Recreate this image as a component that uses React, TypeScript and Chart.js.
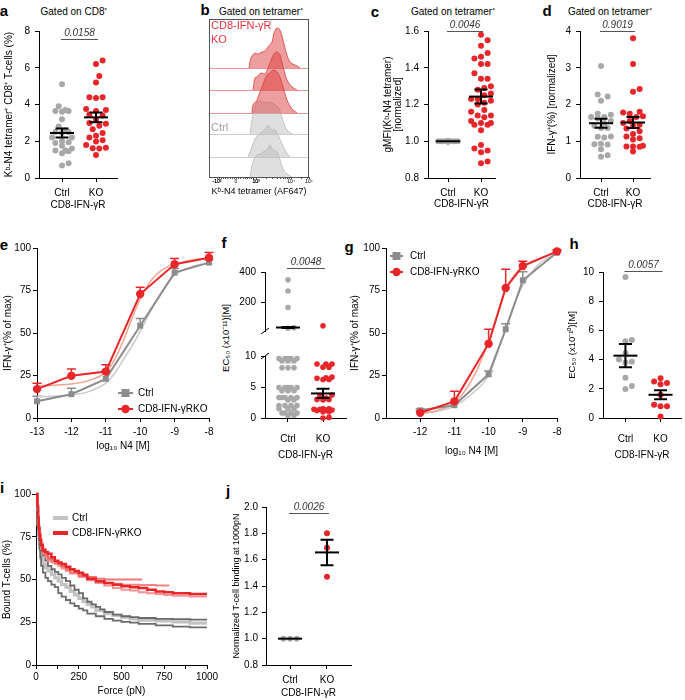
import React, { useEffect, useRef } from 'react';
import { Chart, registerables } from 'chart.js';

Chart.register(...registerables);

const FONT = '"Liberation Sans", Arial, Helvetica, sans-serif';
Chart.defaults.font.family = FONT;
Chart.defaults.font.size = 10;
Chart.defaults.color = '#000';

// ================= DATA =================
const groupLabels = ['Ctrl', 'KO'];
const groupTitle = 'CD8-IFN-γR';

// a
const aCtrl = [5.1, 3.9, 3.65, 3.65, 3.7, 3.6, 3.2, 2.8, 2.6, 2.5, 2.5, 2.45, 2.2, 2.2, 2.0, 1.95, 1.9, 1.75, 1.6, 1.5, 1.5, 1.45, 1.35, 0.8, 0.68];
const aKO = [6.4, 6.2, 5.55, 5.2, 4.4, 4.35, 4.4, 3.75, 3.65, 3.7, 3.45, 3.4, 3.15, 3.0, 2.85, 2.95, 2.65, 2.45, 2.3, 2.2, 2.05, 1.98, 1.8, 1.65, 1.6, 1.62, 1.25];
const aMean = [2.45, 3.3];
const aSem = [0.25, 0.26];
const aP = '0.0158';

// b (histograms: [intensity position, height])
const bKO1 = [[40, 0], [42, 10], [46, 15], [49, 14], [53, 16], [56, 17], [59, 21], [63, 26], [65, 35], [68, 40], [71, 38], [74, 28], [77, 16], [81, 6], [88, 2], [91, 0]];
const bKO2 = [[44, 0], [46, 12], [48, 13], [52, 17], [56, 16], [59, 22], [62, 30], [65, 36], [68, 38], [71, 35], [74, 23], [78, 10], [83, 3], [88, 0]];
const bKO3 = [[43, 0], [44, 8], [48, 13], [51, 21], [54, 29], [58, 38], [61, 40], [64, 43], [68, 41], [71, 36], [74, 26], [78, 13], [83, 4], [88, 0]];
const bCtrl1 = [[41, 0], [44, 19], [48, 32], [51, 33], [54, 32], [58, 31], [61, 32], [65, 30], [68, 28], [71, 23], [74, 13], [78, 4], [83, 0]];
const bCtrl2 = [[39, 0], [43, 10], [46, 18], [49, 22], [53, 25], [56, 27], [59, 32], [63, 27], [66, 27], [69, 22], [73, 13], [77, 5], [81, 0]];
const bCtrl3 = [[41, 0], [44, 15], [48, 22], [51, 23], [54, 25], [58, 27], [61, 32], [64, 27], [68, 25], [71, 17], [74, 8], [78, 3], [83, 0]];
const bTickLabels = ['-10³', '0', '10³', '10⁴', '10⁵'];
const bTickPos = [8, 27, 47, 82, 100];

// c
const cCtrl = [1, 1, 1, 1, 1, 1, 1, 1, 1, 1, 1, 1, 1, 1, 1, 1, 1, 1, 1, 1, 1, 1, 1, 1, 1, 1, 1, 1, 1, 1, 1, 1, 1, 1, 1, 1, 1, 1];
const cKO = [1.58, 1.55, 1.52, 1.48, 1.46, 1.45, 1.42, 1.42, 1.37, 1.34, 1.34, 1.30, 1.29, 1.28, 1.26, 1.25, 1.23, 1.23, 1.22, 1.21, 1.20, 1.17, 1.16, 1.14, 1.14, 1.13, 1.11, 1.10, 1.10, 1.09, 1.09, 1.06, 0.98, 0.96, 0.95, 0.94, 0.89, 0.88];
const cMean = [1.0, 1.243];
const cSem = [0, 0.038];
const cP = '0.0046';

// d
const dCtrl = [3.05, 2.27, 2.22, 2.1, 1.75, 1.72, 1.66, 1.66, 1.62, 1.55, 1.5, 1.42, 1.36, 1.36, 1.13, 1.12, 1.1, 0.93, 0.92, 0.91, 0.78, 0.62, 0.58];
const dKO = [3.8, 3.1, 2.42, 2.35, 1.8, 1.78, 1.75, 1.68, 1.66, 1.55, 1.5, 1.45, 1.42, 1.35, 1.27, 1.2, 1.13, 1.08, 1.05, 0.88, 0.86, 0.86, 0.85, 0.72];
const dMean = [1.49, 1.51];
const dSem = [0.12, 0.15];
const dP = '0.9019';

// e
const eDose = [-13, -12, -11, -10, -9, -8];
const eCtrl = [9.8, 14, 23, 54.3, 85.5, 91.4];
const eCtrlSem = [3, 3.5, 5, 4.3, 2.5, 1.5];
const eKO = [17, 24.8, 27.3, 72.9, 90.4, 94.3];
const eKOSem = [3.5, 4, 4, 4, 3.4, 3];
const eFitX = [-13, -12.5, -12, -11.5, -11, -10.75, -10.5, -10.25, -10, -9.75, -9.5, -9.25, -9, -8.5, -8];
const eFitCtrl = [12.5, 12.8, 13.5, 15.5, 20.5, 26, 34, 42, 51, 61, 70, 78, 84, 89, 91];
const eFitKO = [19, 19.3, 20, 22, 27, 34, 45, 58, 70, 79, 85, 88.5, 90.5, 93, 94];

// f
const fCtrl = [348, 274, 165, 32, 28, 9.6, 9.6, 9.6, 9.6, 9.6, 9.2, 9.2, 9.2, 8.1, 8.1, 8.1, 4.9, 4.9, 4.9, 4.9, 4.9, 4.4, 4.4, 4.4, 3.3, 3.3, 3.3, 3.3, 3.3, 2.9, 2.9, 2.0, 2.0, 2.0, 2.0, 1.5, 1.5, 1.5, 0.8, 0.8, 0.8, 0.8, 0.4, 0.4];
const fKO = [44, 8.7, 8.7, 8.7, 8.2, 8.2, 6.6, 6.5, 6.4, 6.2, 6.2, 3.7, 3.6, 3.2, 3.0, 3.0, 2.9, 1.5, 1.5, 1.4, 1.4, 1.3, 1.3, 1.2, 1.0, 1.0, 0.1, 0];
const fMean = [33, 3.96];
const fSem = [3, 0.75];
const fP = '0.0048';

// g
const gDose = [-12, -11, -10, -9.5, -9, -8];
const gCtrl = [4.5, 7.5, 25.7, 52.2, 81, 97.3];
const gCtrlSem = [1, 1.5, 2, 3.3, 5, 1];
const gKO = [3.1, 9.8, 43.7, 76.5, 89.4, 98];
const gKOSem = [1, 6, 8.5, 11, 2.8, 1];
const gFitX = [-12, -11.5, -11, -10.5, -10, -9.75, -9.5, -9.25, -9, -8.5, -8];
const gFitCtrl = [2.5, 4, 7, 14, 25, 38, 52, 67, 78, 91, 97];
const gFitKO = [2.5, 4.5, 9, 22, 45, 61, 76, 84, 89, 94, 97.5];

// h
const hCtrl = [9.65, 5.35, 5.25, 4.45, 4.0, 3.85, 3.8, 2.75, 2.2, 1.98];
const hKO = [2.73, 2.5, 2.39, 2.32, 1.6, 0.91, 0.8, 0.8, 0.1];
const hMean = [4.27, 1.59];
const hSem = [0.8, 0.31];
const hP = '0.0057';

// i  ([force pN, % bound])
const iCtrl1 = [[0, 100], [8, 100], [12, 92], [16, 84], [20, 78], [25, 74], [30, 71], [40, 67], [55, 64], [70, 61], [90, 58], [110, 56], [130, 54.5], [150, 53], [175, 51], [200, 49], [225, 46.5], [250, 44], [275, 42], [300, 39], [325, 37], [350, 35.5], [375, 34], [400, 32.5], [450, 31], [500, 29.5], [550, 28.5], [600, 28], [700, 27.5], [800, 27], [900, 26.8], [1000, 26.5]];
const iCtrl2 = [[0, 100], [8, 100], [12, 90], [16, 80], [20, 73], [25, 68], [30, 63], [40, 58], [55, 54], [70, 51], [90, 49], [110, 47], [130, 45.5], [150, 42], [175, 40], [200, 38], [225, 36], [250, 34.5], [275, 33], [300, 32], [350, 30], [400, 28.5], [450, 27], [500, 26], [550, 25.2], [600, 24.8], [700, 24], [800, 23.2], [900, 22.5], [1000, 22]];
const iCtrl3 = [[0, 100], [8, 100], [12, 91], [16, 82], [20, 76], [25, 71], [30, 67], [40, 62], [55, 59], [70, 57], [90, 55], [110, 53], [130, 51], [150, 49], [175, 47], [200, 45.5], [225, 43], [250, 41], [275, 39], [300, 37], [325, 35.5], [350, 34], [400, 32], [450, 30], [500, 29], [550, 28], [600, 27], [700, 26.3], [800, 25.8], [900, 25.2], [1000, 24.5]];
const iKO1 = [[0, 100], [8, 100], [12, 93], [16, 86], [20, 80], [25, 76], [30, 73], [40, 70], [55, 67], [70, 66], [90, 65], [110, 63], [130, 61], [150, 60], [175, 59], [200, 57.5], [225, 56], [250, 55], [275, 54], [300, 52.5], [350, 50.5], [400, 49], [450, 48], [500, 47], [550, 46], [600, 45.5], [650, 45], [700, 44], [750, 43], [800, 42.5], [900, 42], [1000, 41.5]];
const iKO2 = [[0, 100], [8, 100], [12, 94], [16, 87], [20, 81], [25, 77], [30, 74], [40, 71], [55, 68], [70, 66], [90, 63], [110, 62], [130, 60.5], [150, 59], [175, 58], [200, 56.5], [225, 55.5], [250, 54.5], [300, 53], [350, 51.5], [400, 50.5], [500, 50], [620, 50]];
const iKO3 = [[0, 100], [8, 100], [12, 92], [16, 84], [20, 79], [25, 75], [30, 72], [40, 68], [55, 65], [70, 63], [90, 61], [110, 60], [130, 59], [150, 58], [175, 56.5], [200, 55], [250, 53.5], [300, 51.5], [350, 49.5], [400, 48], [450, 46.5], [500, 45], [550, 44], [600, 43.5], [650, 42.5], [700, 42], [750, 41.5], [800, 41], [900, 40.5], [1000, 40]];
const iKO4 = [[0, 100], [8, 100], [12, 93], [16, 85], [20, 80], [25, 76], [30, 73], [40, 69], [55, 66], [70, 64], [90, 62], [110, 61], [130, 60], [150, 59], [175, 57.5], [200, 56], [250, 54], [300, 52], [350, 50], [400, 49], [450, 48], [500, 47.5], [600, 47], [700, 46.8], [780, 46.5]];

// j
const jCtrl = [1, 1, 1];
const jKO = [1.80, 1.69, 1.47];
const jMean = [1.0, 1.655];
const jSem = [0, 0.097];
const jP = '0.0026';

// ================= STYLE =================
const GRAY_DOT = '#a8a8a8';
const RED = '#e8262a';
const GRAY_LINE = '#8c8c8c';
const GRAY_FIT = '#c9c9c9';
const RED_FIT = '#f4a48e';

// ================= HELPERS =================
type Geo = { x0: number; y0: number; x1: number; y1: number; yw: number; xh: number; pt: number; pr: number; pl?: number; noX?: boolean };

function rectOf(g: Geo) {
  const pl = g.pl ?? 0;
  return { left: g.x0 - g.yw - pl, top: g.y0 - g.pt, width: pl + g.yw + (g.x1 - g.x0) + g.pr, height: g.pt + (g.y1 - g.y0) + g.xh };
}

function baseOptions(g: Geo) {
  return {
    responsive: false,
    maintainAspectRatio: false,
    animation: false,
    events: [],
    layout: { padding: { left: g.pl ?? 0, top: g.pt, right: g.pr, bottom: g.noX ? g.xh : 0 } },
    plugins: { legend: { display: false }, tooltip: { enabled: false } },
  };
}

const tickFont = { family: FONT, size: 10 };

function yAxis(g: Geo, o: any) {
  const r = rectOf(g);
  const size = o.titleSize ?? 10;
  const lh = o.titleLH ?? 1.2;
  return {
    type: 'linear', position: 'left', min: o.min, max: o.max, display: o.display ?? true,
    afterFit: (s: any) => { s.width = g.yw; },
    afterBuildTicks: (s: any) => { s.ticks = o.ticks.map((v: number) => ({ value: v })); },
    border: { display: true, color: '#000', width: 1 },
    grid: { display: true, drawOnChartArea: false, drawTicks: true, tickLength: 4, color: '#000', lineWidth: 1 },
    ticks: { color: '#000', padding: o.pad, font: tickFont, autoSkip: false, callback: (v: number) => (o.fmt ? o.fmt(v) : String(v)) },
    title: o.title
      ? { display: true, text: o.title, color: '#000', font: { family: FONT, size, lineHeight: lh }, padding: { top: o.titleX - (r.left + (g.pl ?? 0)) - (size * lh) / 2, bottom: 0 } }
      : { display: false },
  };
}

function xAxis(g: Geo, o: any) {
  const r = rectOf(g);
  const tsize = o.titleSize ?? 10;
  const col = o.color ?? '#000';
  return {
    type: 'linear', position: 'bottom', min: o.min, max: o.max, display: o.display ?? true,
    afterFit: (s: any) => { s.height = g.xh; },
    afterBuildTicks: (s: any) => { s.ticks = o.ticks.map((v: number) => ({ value: v })); },
    border: { display: true, color: col, width: 1 },
    grid: { display: true, drawOnChartArea: false, drawTicks: true, tickLength: o.tickLen ?? 4, color: col, lineWidth: 1 },
    ticks: { color: '#000', padding: o.pad ?? 3, font: o.font ?? tickFont, autoSkip: false, maxRotation: 0, minRotation: 0, callback: (v: number) => o.labelOf(v) },
    title: o.title
      ? { display: true, text: o.title, color: '#000', font: { family: FONT, size: tsize, lineHeight: 1.2 }, padding: { top: 0, bottom: r.top + r.height - o.titleY - (tsize * 1.2) / 2 } }
      : { display: false },
  };
}

function swarm(py: number[], d: number, maxHalf: number): number[] {
  const idx = py.map((_, i) => i).sort((a, b) => py[a] - py[b]);
  const cands: number[] = [0];
  for (let k = 1; k * (d / 2) <= maxHalf + 0.01; k++) { cands.push((k * d) / 2, (-k * d) / 2); }
  const placed: { x: number; y: number }[] = [];
  const out: number[] = py.map(() => 0);
  for (const i of idx) {
    let best = 0;
    let bestScore = -1;
    for (const c of cands) {
      let mind = Infinity;
      for (const p of placed) {
        const dd = Math.hypot(p.x - c, p.y - py[i]);
        if (dd < mind) mind = dd;
      }
      if (mind >= d - 0.01) { best = c; bestScore = Infinity; break; }
      if (mind > bestScore + 0.01) { bestScore = mind; best = c; }
    }
    placed.push({ x: best, y: py[i] });
    out[i] = best;
  }
  return out;
}

function swarmPoints(values: number[], gx: number, pyOf: (v: number) => number, pxPerX: number, d: number, maxHalf: number) {
  const offs = swarm(values.map(pyOf), d, maxHalf);
  return values.map((v, i) => ({ x: gx + offs[i] / pxPerX, y: v }));
}

function statsPlugin(o: { xs: number[]; means: number[]; sems: number[]; mw: number; cw: number; p?: { text: string; dy: number }; inRange?: (v: number) => boolean }) {
  return {
    id: 'stats',
    afterDatasetsDraw(chart: any) {
      const { ctx } = chart;
      const xs = chart.scales.x;
      const ys = chart.scales.y;
      ctx.save();
      ctx.strokeStyle = '#000';
      ctx.lineWidth = 2;
      o.means.forEach((m, i) => {
        if (o.inRange && !o.inRange(m)) return;
        const px = xs.getPixelForValue(o.xs[i]);
        const pm = ys.getPixelForValue(m);
        ctx.beginPath();
        ctx.moveTo(px - o.mw, pm);
        ctx.lineTo(px + o.mw, pm);
        ctx.stroke();
        const s = o.sems[i];
        if (s > 0) {
          const hi = ys.getPixelForValue(m + s);
          const lo = ys.getPixelForValue(m - s);
          ctx.beginPath();
          ctx.moveTo(px, hi); ctx.lineTo(px, lo);
          ctx.moveTo(px - o.cw, hi); ctx.lineTo(px + o.cw, hi);
          ctx.moveTo(px - o.cw, lo); ctx.lineTo(px + o.cw, lo);
          ctx.stroke();
        }
      });
      if (o.p) {
        const a = xs.getPixelForValue(o.xs[0]) - 1;
        const b = xs.getPixelForValue(o.xs[1]) + 2;
        const y = Math.round(chart.chartArea.top + o.p.dy) + 0.5;
        ctx.strokeStyle = '#555';
        ctx.lineWidth = 1;
        ctx.beginPath(); ctx.moveTo(a, y); ctx.lineTo(b, y); ctx.stroke();
        ctx.fillStyle = '#333';
        ctx.font = `italic 10px ${FONT}`;
        ctx.textAlign = 'center';
        ctx.textBaseline = 'bottom';
        ctx.fillText(o.p.text, (a + b) / 2, y - 1);
      }
      ctx.restore();
    },
  };
}

function errPlugin(series: { xs: number[]; ys: number[]; sems: number[]; color: string }[]) {
  return {
    id: 'errs',
    beforeDatasetsDraw(chart: any) {
      const { ctx } = chart;
      const sx = chart.scales.x;
      const sy = chart.scales.y;
      ctx.save();
      ctx.lineWidth = 1.5;
      for (const s of series) {
        ctx.strokeStyle = s.color;
        s.xs.forEach((x, i) => {
          const px = sx.getPixelForValue(x);
          const p0 = sy.getPixelForValue(s.ys[i]);
          const p1 = sy.getPixelForValue(s.ys[i] + s.sems[i]);
          ctx.beginPath();
          ctx.moveTo(px, p0); ctx.lineTo(px, p1);
          ctx.moveTo(px - 4.5, p1); ctx.lineTo(px + 4.5, p1);
          ctx.stroke();
        });
      }
      ctx.restore();
    },
  };
}

function legendPlugin(o: { items: { text: string; color: string; marker?: string; lw: number }[]; x: number; y: number; dy: number; len: number; gap: number }) {
  return {
    id: 'myLegend',
    afterDraw(chart: any) {
      const { ctx, chartArea } = chart;
      ctx.save();
      o.items.forEach((it, i) => {
        const y = chartArea.top + o.y + i * o.dy;
        const x = chartArea.left + o.x;
        ctx.strokeStyle = it.color;
        ctx.lineWidth = it.lw;
        ctx.beginPath(); ctx.moveTo(x, y); ctx.lineTo(x + o.len, y); ctx.stroke();
        ctx.fillStyle = it.color;
        if (it.marker === 'rect') ctx.fillRect(x + o.len / 2 - 4, y - 4, 8, 8);
        if (it.marker === 'circle') { ctx.beginPath(); ctx.arc(x + o.len / 2, y, 4.2, 0, Math.PI * 2); ctx.fill(); }
        ctx.fillStyle = '#000';
        ctx.font = `10px ${FONT}`;
        ctx.textAlign = 'left';
        ctx.textBaseline = 'middle';
        ctx.fillText(it.text, x + o.len + o.gap, y + 0.5);
      });
      ctx.restore();
    },
  };
}

function breakPlugin(where: 'top' | 'bottom') {
  return {
    id: 'brk',
    afterDraw(chart: any) {
      const { ctx, chartArea } = chart;
      const x = chartArea.left;
      const y = where === 'top' ? chartArea.top : chartArea.bottom;
      ctx.save();
      ctx.strokeStyle = '#000';
      ctx.lineWidth = 1;
      ctx.beginPath(); ctx.moveTo(x - 4, y + 3); ctx.lineTo(x + 4, y - 3); ctx.stroke();
      ctx.restore();
    },
  };
}

// ================= GEOMETRY (page px) =================
const A_GEO: Geo = { x0: 39, y0: 31, x1: 117, y1: 178, yw: 39, xh: 35, pt: 11, pr: 8 };
const C_GEO: Geo = { x0: 428, y0: 31, x1: 495, y1: 178, yw: 48, xh: 35, pt: 11, pr: 8 };
const D_GEO: Geo = { x0: 580, y0: 31, x1: 650, y1: 178, yw: 40, xh: 35, pt: 11, pr: 8 };
const B_GEO: Geo = { x0: 209, y0: 19, x1: 309, y1: 177, yw: 0, xh: 22, pt: 4, pr: 8, pl: 4 };
const E_GEO: Geo = { x0: 37, y0: 248, x1: 209, y1: 418, yw: 37, xh: 35, pt: 12, pr: 10 };
const FU_GEO: Geo = { x0: 265, y0: 272, x1: 346, y1: 340, yw: 30, xh: 2, pt: 17, pr: 6, noX: true };
const FL_GEO: Geo = { x0: 265, y0: 351, x1: 346, y1: 418, yw: 30, xh: 44, pt: 6, pr: 6 };
const G_GEO: Geo = { x0: 386, y0: 248, x1: 557, y1: 418, yw: 40, xh: 40, pt: 12, pr: 10 };
const H_GEO: Geo = { x0: 603, y0: 272, x1: 683, y1: 418, yw: 40, xh: 44, pt: 17, pr: 2 };
const I_GEO: Geo = { x0: 36, y0: 494, x1: 207, y1: 665, yw: 36, xh: 34, pt: 12, pr: 14 };
const J_GEO: Geo = { x0: 266, y0: 507, x1: 351, y1: 665, yw: 40, xh: 34, pt: 14, pr: 6 };

const catLabel = (v: number) => groupLabels[Math.round(v) - 1] ?? '';

// generic dot plot builder
function buildDot(g: Geo, o: any) {
  const pxPerX = (g.x1 - g.x0) / (o.xmax - o.xmin);
  const pyOf = o.pyOf ?? ((v: number) => ((v - o.ymin) * (g.y1 - g.y0)) / (o.ymax - o.ymin));
  const groups = [o.ctrl, o.ko];
  const colors = [GRAY_DOT, RED];
  const keep = o.keep ?? (() => true);
  const datasets = groups.map((vals: number[], i: number) => ({
    data: swarmPoints(vals, i + 1, pyOf, pxPerX, o.d ?? 6.6, o.maxHalf ?? 11).filter((p) => keep(p.y)),
    backgroundColor: colors[i],
    borderWidth: 0,
    pointRadius: o.radius ?? 3,
    clip: false,
  }));
  return {
    type: 'scatter',
    data: { datasets },
    options: {
      ...baseOptions(g),
      scales: {
        x: xAxis(g, { min: o.xmin, max: o.xmax, ticks: [1, 2], labelOf: catLabel, pad: o.xpad, title: o.xtitle, titleY: o.xtitleY, display: !g.noX }),
        y: yAxis(g, { min: o.ymin, max: o.ymax, ticks: o.yticks, fmt: o.yfmt, title: o.ytitle, titleX: o.ytitleX, titleSize: o.ytitleSize, titleLH: o.ytitleLH, pad: o.ypad }),
      },
    },
    plugins: [statsPlugin({ xs: [1, 2], means: o.means, sems: o.sems, mw: 12, cw: 6.5, p: o.p, inRange: o.inRange }), ...(o.extra ?? [])],
  };
}

const fix1 = (v: number) => v.toFixed(1);

const buildA = () => buildDot(A_GEO, {
  ctrl: aCtrl, ko: aKO, means: aMean, sems: aSem, p: { text: aP, dy: 8 },
  xmin: 0.3235, xmax: 2.6176, ymin: 0, ymax: 8, yticks: [0, 2, 4, 6, 8], ypad: 5,
  ytitle: 'Kᵇ-N4 tetramer⁺ CD8⁺ T-cells (%)', ytitleX: 9, xpad: 5, xtitle: groupTitle, xtitleY: 205, maxHalf: 11,
});

const buildC = () => buildDot(C_GEO, {
  ctrl: cCtrl, ko: cKO, means: cMean, sems: cSem, p: { text: cP, dy: 0 },
  xmin: 0.394, xmax: 2.424, ymin: 0.8, ymax: 1.6, yticks: [0.8, 1.0, 1.2, 1.4, 1.6], yfmt: fix1, ypad: 5,
  ytitle: ['gMFI(Kᵇ-N4 tetramer)', '[normalized]'], ytitleX: 388, ytitleLH: 1.0, xpad: 5, xtitle: groupTitle, xtitleY: 204, maxHalf: 11,
});

const buildD = () => buildDot(D_GEO, {
  ctrl: dCtrl, ko: dKO, means: dMean, sems: dSem, p: { text: dP, dy: 0 },
  xmin: 0.344, xmax: 2.53, ymin: 0, ymax: 4, yticks: [0, 1, 2, 3, 4], ypad: 5,
  ytitle: 'IFN-γ⁺(%) [normalized]', ytitleX: 552, xpad: 5, xtitle: groupTitle, xtitleY: 204, maxHalf: 11,
});

const buildH = () => buildDot(H_GEO, {
  ctrl: hCtrl, ko: hKO, means: hMean, sems: hSem, p: { text: hP, dy: -1 },
  xmin: 0.361, xmax: 2.583, ymin: 0, ymax: 10, yticks: [0, 2, 4, 6, 8, 10], ypad: 5,
  ytitle: 'EC₅₀ (x10⁻¹⁰)[M]', ytitleX: 572, ytitleSize: 9.5, xpad: 11, xtitle: groupTitle, xtitleY: 455, maxHalf: 12,
});

const buildJ = () => buildDot(J_GEO, {
  ctrl: jCtrl, ko: jKO, means: jMean, sems: jSem, p: { text: jP, dy: 6 },
  xmin: 0.351, xmax: 2.649, ymin: 0.8, ymax: 2.0, yticks: [0.8, 1.0, 1.2, 1.4, 1.6, 1.8, 2.0], yfmt: fix1, ypad: 4,
  ytitle: 'Normalized T-cell binding at 1000pN', ytitleX: 237, ytitleSize: 9, xpad: 5, xtitle: groupTitle, xtitleY: 693, maxHalf: 10,
});

// f: broken axis (upper 10-400, lower 0-10)
const fPyOf = (v: number) => (v <= 10 ? v * 6.7 : 78 + ((v - 10) * 68) / 390);
const buildFUpper = () => buildDot(FU_GEO, {
  ctrl: fCtrl, ko: fKO, means: fMean, sems: fSem, p: { text: fP, dy: -4 }, inRange: (v: number) => v > 10,
  keep: (v: number) => v > 10, pyOf: fPyOf, d: 6, radius: 2.8,
  xmin: 0.343, xmax: 2.657, ymin: 10, ymax: 400, yticks: [200, 400], ypad: 5, maxHalf: 10,
  extra: [breakPlugin('bottom')],
});
const buildFLower = () => buildDot(FL_GEO, {
  ctrl: fCtrl, ko: fKO, means: fMean, sems: fSem, inRange: (v: number) => v <= 10,
  keep: (v: number) => v <= 10, pyOf: fPyOf, d: 6, radius: 2.8,
  xmin: 0.343, xmax: 2.657, ymin: 0, ymax: 10, yticks: [0, 5, 10], ypad: 5, maxHalf: 10,
  xpad: 11, xtitle: groupTitle, xtitleY: 455,
  extra: [breakPlugin('top')],
});

// b: stacked histograms
const B_BASE = [109, 87, 64, 43, 20, 0];
const bRows = [bKO1, bKO2, bKO3, bCtrl1, bCtrl2, bCtrl3];
const bIsKO = [true, true, true, false, false, false];
const bMinor: number[] = [];
for (let k = 0; k <= 18; k++) bMinor.push(8 + (k * (47 - 8)) / 18);
for (let k = 2; k <= 9; k++) bMinor.push(47 + 35 * Math.log10(k));
for (let k = 2; k <= 3; k++) bMinor.push(82 + 35 * Math.log10(k));

const bBoxPlugin = {
  id: 'bbox',
  beforeDatasetsDraw(chart: any) {
    const { ctx, chartArea } = chart;
    const sy = chart.scales.y;
    ctx.save();
    ctx.lineWidth = 1;
    B_BASE.slice(0, 5).forEach((b, i) => {
      const y = Math.round(sy.getPixelForValue(b)) + 0.5;
      ctx.strokeStyle = bIsKO[i] ? 'rgba(228,110,110,0.75)' : 'rgba(200,200,200,0.9)';
      ctx.beginPath(); ctx.moveTo(chartArea.left, y); ctx.lineTo(chartArea.right, y); ctx.stroke();
    });
    ctx.restore();
  },
  afterDatasetsDraw(chart: any) {
    const { ctx, chartArea } = chart;
    ctx.save();
    ctx.strokeStyle = '#555';
    ctx.lineWidth = 1;
    ctx.strokeRect(Math.round(chartArea.left) + 0.5, Math.round(chartArea.top) + 0.5, Math.round(chartArea.right - chartArea.left) - 1, Math.round(chartArea.bottom - chartArea.top));
    ctx.restore();
  },
};

const buildB = () => ({
  type: 'line',
  data: {
    datasets: bRows.map((row, r) => ({
      data: row.map(([x, h]) => ({ x, y: B_BASE[r] + h })),
      fill: { value: B_BASE[r] },
      backgroundColor: bIsKO[r] ? 'rgba(222,62,62,0.5)' : 'rgba(185,185,185,0.45)',
      borderColor: bIsKO[r] ? 'rgba(215,50,50,0.75)' : 'rgba(190,190,190,0.9)',
      borderWidth: 1,
      pointRadius: 0,
      tension: 0.3,
      clip: false,
    })),
  },
  options: {
    ...baseOptions(B_GEO),
    scales: {
      x: xAxis(B_GEO, {
        min: 0, max: 100, ticks: [...bTickPos, ...bMinor].sort((a, b) => a - b),
        labelOf: (v: number) => { const i = bTickPos.indexOf(v); return i >= 0 ? bTickLabels[i] : ''; },
        pad: 0, tickLen: 2, font: { family: FONT, size: 5 }, color: '#555',
        title: 'Kᵇ-N4 tetramer (AF647)', titleY: 192, titleSize: 9,
      }),
      y: { type: 'linear', display: false, min: 0, max: 158 },
    },
  },
  plugins: [bBoxPlugin],
});

// e / g dose response
function buildDose(g: Geo, o: any) {
  const pts = (xs: number[], ys: number[]) => xs.map((x, i) => ({ x, y: ys[i] }));
  return {
    type: 'line',
    data: {
      datasets: [
        { data: pts(o.dose, o.ko), borderColor: RED, backgroundColor: RED, borderWidth: 2, pointStyle: 'circle', pointRadius: 4.2, pointBorderWidth: 0, clip: false },
        { data: pts(o.dose, o.ctrl), borderColor: GRAY_LINE, backgroundColor: GRAY_LINE, borderWidth: 2, pointStyle: 'rect', pointRadius: 4.2, pointBorderWidth: 0, clip: false },
        { data: pts(o.fitX, o.fitKO), borderColor: RED_FIT, borderWidth: 1.5, pointRadius: 0, cubicInterpolationMode: 'monotone', clip: false },
        { data: pts(o.fitX, o.fitCtrl), borderColor: GRAY_FIT, borderWidth: 1.5, pointRadius: 0, cubicInterpolationMode: 'monotone', clip: false },
      ],
    },
    options: {
      ...baseOptions(g),
      scales: {
        x: xAxis(g, { min: -13, max: -8, ticks: o.xticks, labelOf: (v: number) => String(v), pad: 4, title: 'log₁₀ N4 [M]', titleY: o.xtitleY }),
        y: yAxis(g, { min: 0, max: 100, ticks: [0, 25, 50, 75, 100], pad: 2, title: 'IFN-γ⁺(% of max)', titleX: o.ytitleX }),
      },
    },
    plugins: [
      errPlugin([
        { xs: o.dose, ys: o.ctrl, sems: o.ctrlSem, color: GRAY_LINE },
        { xs: o.dose, ys: o.ko, sems: o.koSem, color: RED },
      ]),
      legendPlugin({
        items: [
          { text: 'Ctrl', color: GRAY_LINE, marker: 'rect', lw: 2 },
          { text: 'CD8-IFN-γRKO', color: RED, marker: 'circle', lw: 2 },
        ],
        x: o.lx, y: o.ly, dy: 16, len: o.llen, gap: o.lgap,
      }),
    ],
  };
}

const buildE = () => buildDose(E_GEO, {
  dose: eDose, ctrl: eCtrl, ctrlSem: eCtrlSem, ko: eKO, koSem: eKOSem, fitX: eFitX, fitCtrl: eFitCtrl, fitKO: eFitKO,
  xticks: [-13, -12, -11, -10, -9, -8], xtitleY: 446, ytitleX: 8, lx: 81, ly: 145, llen: 15, lgap: 5,
});

const buildG = () => buildDose(G_GEO, {
  dose: gDose, ctrl: gCtrl, ctrlSem: gCtrlSem, ko: gKO, koSem: gKOSem, fitX: gFitX, fitCtrl: gFitCtrl, fitKO: gFitKO,
  xticks: [-12, -11, -10, -9, -8], xtitleY: 451, ytitleX: 355, lx: 4, ly: 8, llen: 13, lgap: 7,
});

// i survival curves
const buildI = () => {
  const ds = (arr: number[][], color: string, w: number) => ({
    data: arr.map(([x, y]) => ({ x, y })), borderColor: color, borderWidth: w, pointRadius: 0, stepped: 'after', clip: false,
  });
  return {
    type: 'line',
    data: {
      datasets: [
        ds(iKO1, '#e8262a', 2.5),
        ds(iKO2, 'rgba(236,95,95,0.85)', 2),
        ds(iKO4, 'rgba(238,110,110,0.85)', 2),
        ds(iKO3, 'rgba(242,135,135,0.9)', 2),
        ds(iCtrl1, '#6b6b6b', 1.8),
        ds(iCtrl2, '#6b6b6b', 1.8),
        ds(iCtrl3, '#c2c2c2', 3.2),
      ],
    },
    options: {
      ...baseOptions(I_GEO),
      scales: {
        x: xAxis(I_GEO, {
          min: 0, max: 1000, ticks: [0, 125, 250, 375, 500, 625, 750, 875, 1000],
          labelOf: (v: number) => (v % 250 === 0 ? String(v) : ''), pad: 2, title: 'Force (pN)', titleY: 691,
        }),
        y: yAxis(I_GEO, { min: 0, max: 100, ticks: [0, 25, 50, 75, 100], pad: 1, title: 'Bound T-cells (%)', titleX: 7 }),
      },
    },
    plugins: [
      legendPlugin({
        items: [
          { text: 'Ctrl', color: '#c2c2c2', lw: 4 },
          { text: 'CD8-IFN-γRKO', color: '#e8262a', lw: 4 },
        ],
        x: 17, y: 24, dy: 15, len: 15, gap: 4,
      }),
    ],
  };
};

// ================= COMPONENTS =================
function ChartCanvas({ geo, build }: { geo: Geo; build: () => any }) {
  const ref = useRef<HTMLCanvasElement | null>(null);
  const r = rectOf(geo);
  useEffect(() => {
    if (!ref.current) return undefined;
    const chart = new Chart(ref.current, build());
    return () => chart.destroy();
  }, []);
  return (
    <canvas
      ref={ref}
      width={r.width}
      height={r.height}
      style={{ position: 'absolute', left: r.left, top: r.top, width: r.width, height: r.height }}
    />
  );
}

function Txt({ x, y, children, size = 10, bold = false, color = '#000', center = true }: any) {
  return (
    <div
      style={{
        position: 'absolute', left: x, top: y - size * 0.6, fontSize: size, lineHeight: `${size * 1.2}px`,
        fontWeight: bold ? 'bold' : 'normal', color, whiteSpace: 'nowrap', fontFamily: FONT,
        transform: center ? 'translateX(-50%)' : undefined,
      }}
    >
      {children}
    </div>
  );
}

const panelLetters: [string, number, number][] = [
  ['a', 4, 11], ['b', 205, 10], ['c', 375, 12], ['d', 547, 11], ['e', 4, 245],
  ['f', 224, 243], ['g', 349, 247], ['h', 574, 244], ['i', 2, 488], ['j', 228, 491],
];

export default function App() {
  return (
    <div style={{ position: 'absolute', left: 0, top: 0, width: 685, height: 700, background: '#fff', overflow: 'hidden', fontFamily: FONT }}>
      {panelLetters.map(([t, x, y]) => (
        <Txt key={t} x={x} y={y} size={15} bold>{t}</Txt>
      ))}
      <Txt x={74} y={12}>Gated on CD8⁺</Txt>
      <Txt x={261} y={12}>Gated on tetramer⁺</Txt>
      <Txt x={453} y={12}>Gated on tetramer⁺</Txt>
      <Txt x={610} y={12}>Gated on tetramer⁺</Txt>

      <ChartCanvas geo={A_GEO} build={buildA} />
      <ChartCanvas geo={B_GEO} build={buildB} />
      <ChartCanvas geo={C_GEO} build={buildC} />
      <ChartCanvas geo={D_GEO} build={buildD} />
      <ChartCanvas geo={E_GEO} build={buildE} />
      <ChartCanvas geo={FU_GEO} build={buildFUpper} />
      <ChartCanvas geo={FL_GEO} build={buildFLower} />
      <ChartCanvas geo={G_GEO} build={buildG} />
      <ChartCanvas geo={H_GEO} build={buildH} />
      <ChartCanvas geo={I_GEO} build={buildI} />
      <ChartCanvas geo={J_GEO} build={buildJ} />

      <Txt x={211} y={26} size={11} color="#e8343a" center={false}>CD8-IFN-γR</Txt>
      <Txt x={211} y={40} size={11} color="#e8343a" center={false}>KO</Txt>
      <Txt x={211} y={128} size={11} color="#a0a0a0" center={false}>Ctrl</Txt>

      <div
        style={{
          position: 'absolute', left: 225, top: 338, fontSize: 9.5, lineHeight: '11px', fontFamily: FONT, whiteSpace: 'nowrap',
          transform: 'translate(-50%, -50%) rotate(-90deg)',
        }}
      >
        EC₅₀ (x10⁻¹¹)[M]
      </div>
    </div>
  );
}
